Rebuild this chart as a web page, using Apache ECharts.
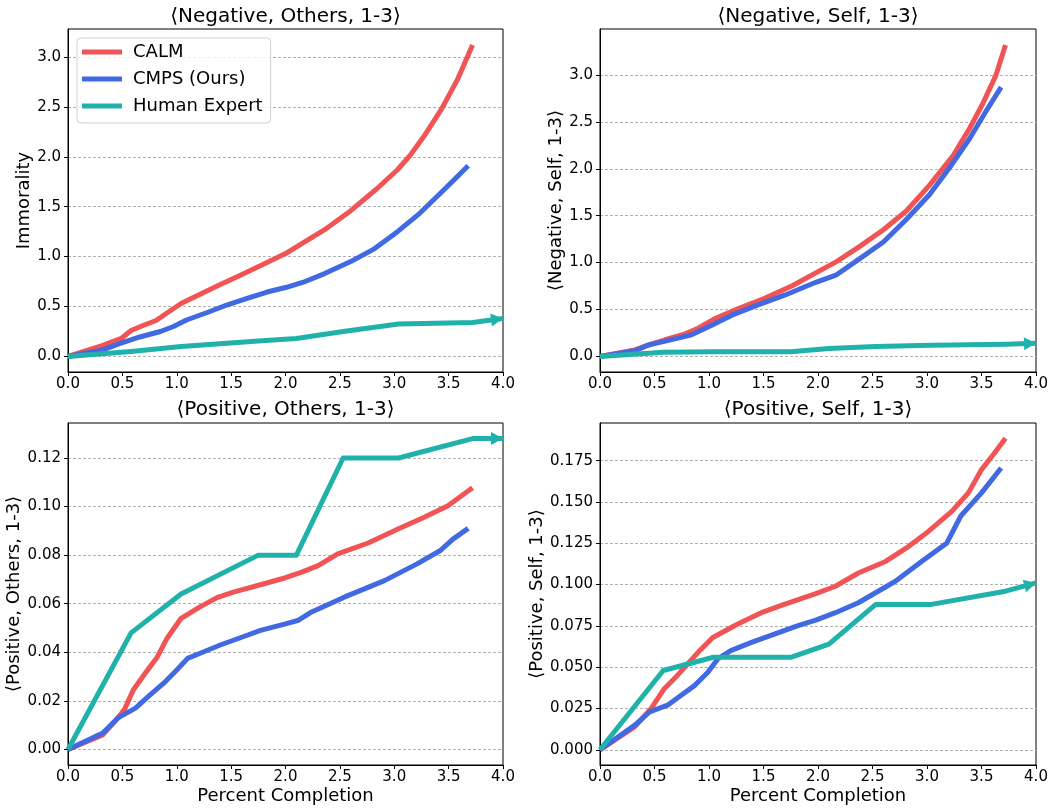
<!DOCTYPE html>
<html><head><meta charset="utf-8">
<script src="https://cdn.jsdelivr.net/npm/echarts@6/dist/echarts.min.js"></script>
<style>html,body{margin:0;padding:0;background:#fff}#c{width:1056px;height:809px}</style>
</head><body><div id="c"></div><script>
// ---- data ----
const seriesNames = ['CALM', 'CMPS (Ours)', 'Human Expert'];
const panelTitles = ['⟨Negative, Others, 1-3⟩', '⟨Negative, Self, 1-3⟩', '⟨Positive, Others, 1-3⟩', '⟨Positive, Self, 1-3⟩'];
const yNames = ['Immorality', '⟨Negative, Self, 1-3⟩', '⟨Positive, Others, 1-3⟩', '⟨Positive, Self, 1-3⟩'];
const xName = 'Percent Completion';
const xTicks = [0, 0.5, 1, 1.5, 2, 2.5, 3, 3.5, 4];
const ticksNeg = [0, 0.5, 1, 1.5, 2, 2.5, 3];
const ticksPosOthers = [0, 0.02, 0.04, 0.06, 0.08, 0.10, 0.12];
const ticksPosSelf = [0, 0.025, 0.05, 0.075, 0.1, 0.125, 0.15, 0.175];

const negOthersCALM = [[0,0],[0.32,0.11],[0.49,0.18],[0.58,0.26],[0.69,0.31],[0.81,0.36],[0.93,0.45],[1.04,0.53],[1.21,0.62],[1.4,0.72],[1.58,0.81],[1.83,0.94],[2.0,1.03],[2.18,1.15],[2.36,1.27],[2.6,1.46],[2.84,1.68],[3.03,1.87],[3.15,2.02],[3.27,2.2],[3.43,2.47],[3.58,2.77],[3.72,3.12]];
const negOthersCMPS = [[0,0],[0.32,0.065],[0.48,0.13],[0.66,0.195],[0.85,0.25],[0.97,0.3],[1.09,0.365],[1.28,0.44],[1.46,0.515],[1.64,0.58],[1.83,0.645],[2.0,0.69],[2.18,0.75],[2.36,0.83],[2.6,0.95],[2.82,1.08],[3.03,1.25],[3.22,1.42],[3.41,1.62],[3.56,1.78],[3.68,1.91]];
const negOthersHuman = [[0,0],[0.58,0.05],[1.04,0.10],[1.75,0.155],[2.1,0.18],[2.53,0.25],[3.04,0.325],[3.72,0.34],[4.0,0.38]];

const negSelfCALM = [[0,0],[0.32,0.07],[0.47,0.13],[0.59,0.175],[0.78,0.24],[0.9,0.3],[1.05,0.4],[1.27,0.51],[1.51,0.62],[1.76,0.75],[1.98,0.89],[2.17,1.01],[2.38,1.17],[2.6,1.35],[2.81,1.55],[3.02,1.82],[3.24,2.14],[3.39,2.43],[3.51,2.69],[3.63,2.99],[3.72,3.32]];
const negSelfCMPS = [[0,0],[0.32,0.06],[0.44,0.12],[0.59,0.16],[0.84,0.23],[1.02,0.33],[1.21,0.44],[1.45,0.55],[1.7,0.655],[1.98,0.79],[2.17,0.87],[2.38,1.04],[2.6,1.22],[2.81,1.46],[3.02,1.72],[3.2,2.0],[3.39,2.32],[3.54,2.61],[3.68,2.87]];
const negSelfHuman = [[0,0],[0.58,0.045],[1.04,0.05],[1.75,0.05],[2.1,0.085],[2.53,0.105],[3.04,0.12],[3.72,0.13],[4.0,0.14]];

const posOthersCALM = [[0,0],[0.32,0.006],[0.46,0.013],[0.52,0.0165],[0.6,0.0245],[0.72,0.032],[0.82,0.038],[0.91,0.0457],[1.04,0.054],[1.21,0.0586],[1.37,0.0625],[1.52,0.0648],[1.77,0.0678],[2.0,0.0707],[2.15,0.073],[2.3,0.0757],[2.48,0.0805],[2.76,0.085],[3.03,0.0907],[3.27,0.0955],[3.49,0.1002],[3.72,0.1077]];
const posOthersCMPS = [[0,0],[0.32,0.0068],[0.46,0.013],[0.62,0.017],[0.755,0.0225],[0.88,0.0273],[1.0,0.0327],[1.1,0.0375],[1.21,0.0395],[1.4,0.043],[1.61,0.0464],[1.77,0.049],[2.0,0.0517],[2.12,0.0532],[2.24,0.0566],[2.54,0.0627],[2.91,0.0695],[3.21,0.0764],[3.42,0.0818],[3.54,0.0866],[3.68,0.091]];
const posOthersHuman = [[0,0],[0.58,0.048],[1.04,0.064],[1.75,0.08],[2.1,0.08],[2.53,0.12],[3.04,0.12],[3.72,0.128],[4.0,0.128]];

const posSelfCALM = [[0,0],[0.32,0.014],[0.47,0.025],[0.59,0.037],[0.71,0.045],[0.9,0.059],[1.035,0.068],[1.26,0.076],[1.48,0.083],[1.69,0.088],[1.98,0.0945],[2.16,0.099],[2.37,0.107],[2.62,0.114],[2.83,0.123],[3.01,0.132],[3.23,0.1445],[3.38,0.1555],[3.5,0.1696],[3.62,0.1796],[3.72,0.1886]];
const posSelfCMPS = [[0,0],[0.32,0.015],[0.455,0.023],[0.62,0.027],[0.745,0.033],[0.87,0.039],[0.99,0.047],[1.08,0.055],[1.2,0.06],[1.39,0.065],[1.6,0.07],[1.81,0.075],[1.98,0.0785],[2.16,0.083],[2.37,0.089],[2.71,0.102],[2.95,0.114],[3.18,0.125],[3.31,0.1415],[3.5,0.1555],[3.68,0.1706]];
const posSelfHuman = [[0,0],[0.58,0.048],[1.04,0.056],[1.75,0.056],[2.1,0.064],[2.53,0.088],[3.04,0.088],[3.72,0.096],[4.0,0.101]];

// ---- layout / style ----
const FONT = 'DejaVu Sans';
const COLORS = ['#F05454', '#4169E1', '#20B2AA'];
const panels = [
  {data:[negOthersCALM, negOthersCMPS, negOthersHuman], ticks:ticksNeg, dec:1, grid:{left:68, top:29, width:435, height:343}, ymin:-0.156, ymax:3.28, nameGap:33, showX:false},
  {data:[negSelfCALM, negSelfCMPS, negSelfHuman], ticks:ticksNeg, dec:1, grid:{left:600, top:29, width:436, height:343}, ymin:-0.166, ymax:3.49, nameGap:30, showX:false},
  {data:[posOthersCALM, posOthersCMPS, posOthersHuman], ticks:ticksPosOthers, dec:2, grid:{left:68, top:423, width:435, height:342}, ymin:-0.0064, ymax:0.1344, nameGap:43, showX:true},
  {data:[posSelfCALM, posSelfCMPS, posSelfHuman], ticks:ticksPosSelf, dec:3, grid:{left:600, top:423, width:436, height:342}, ymin:-0.0092, ymax:0.1978, nameGap:48, showX:true}
];

const grids = [], xAxes = [], yAxes = [], series = [], graphics = [];
panels.forEach((p, i) => {
  grids.push(Object.assign({show:true, borderColor:'#000', borderWidth:1, backgroundColor:'#fff'}, p.grid));
  xAxes.push({
    type:'value', gridIndex:i, min:0, max:4, interval:0.5,
    name: p.showX ? xName : '', nameLocation:'middle', nameGap:22,
    nameTextStyle:{fontFamily:FONT, fontSize:18, color:'#000'},
    axisLine:{show:true, onZero:false, lineStyle:{color:'#000', width:1}},
    axisTick:{show:true, length:4, customValues:xTicks, lineStyle:{color:'#000'}},
    axisLabel:{fontFamily:FONT, fontSize:15, color:'#000', margin:5, customValues:xTicks, formatter:v=>v.toFixed(1)},
    splitLine:{show:false}
  });
  yAxes.push({
    type:'value', gridIndex:i, min:p.ymin, max:p.ymax,
    name: yNames[i], nameLocation:'middle', nameGap:p.nameGap, nameRotate:90,
    nameTextStyle:{fontFamily:FONT, fontSize:18, color:'#000'},
    axisLine:{show:true, onZero:false, lineStyle:{color:'#000', width:1}},
    axisTick:{show:true, length:4, customValues:p.ticks, lineStyle:{color:'#000'}},
    axisLabel:{fontFamily:FONT, fontSize:15, color:'#000', margin:7, customValues:p.ticks, formatter:v=>v.toFixed(p.dec)},
    splitLine:{show:true, lineStyle:{color:'#b0b0b0', width:1, type:[3,2]}}
  });
  const g = p.grid;
  graphics.push({type:'text', x:g.left + g.width/2, y:(i < 2 ? 17 : 410),
    style:{text:panelTitles[i], fontFamily:FONT, fontSize:20, fill:'#000', align:'center', verticalAlign:'middle'}});
  p.data.forEach((arr, k) => {
    let d = arr.map(v => v.slice());
    if (k === 2) {
      const a = arr[arr.length-2], b = arr[arr.length-1];
      const dx = (b[0]-a[0]) / 4 * g.width;
      const dy = (b[1]-a[1]) / (p.ymax - p.ymin) * g.height;
      const ang = Math.atan2(dy, dx);
      const L = 6;
      d[d.length-1] = {value:b.slice(), symbol:'triangle', symbolSize:[13,12],
        symbolRotate: ang*180/Math.PI - 90,
        symbolOffset:[-L*Math.cos(ang), L*Math.sin(ang)],
        itemStyle:{color:COLORS[2]}};
    }
    series.push({
      type:'line', name:seriesNames[k], xAxisIndex:i, yAxisIndex:i, data:d,
      symbol:'none', showSymbol:true, showAllSymbol:true,
      color:COLORS[k], lineStyle:{width:5, color:COLORS[k], cap:'butt', join:'round'},
      emphasis:{disabled:true}, silent:true, animation:false, z:2+k
    });
  });
});

const chart = echarts.init(document.getElementById('c'), null, {renderer:'canvas'});
chart.setOption({
  animation:false,
  backgroundColor:'#fff',
  grid:grids, xAxis:xAxes, yAxis:yAxes, series:series, graphic:graphics,
  legend:{
    data:seriesNames, orient:'vertical', left:77, top:38,
    icon:'rect', itemWidth:40, itemHeight:5, itemGap:9,
    padding:[5,8,8,5],
    borderColor:'#d0d0d0', borderWidth:1, borderRadius:4, backgroundColor:'rgba(255,255,255,0.8)',
    textStyle:{fontFamily:FONT, fontSize:18, color:'#000', padding:[0,0,0,6], lineHeight:18},
    selectedMode:false, z:20
  }
});
</script></body></html>
